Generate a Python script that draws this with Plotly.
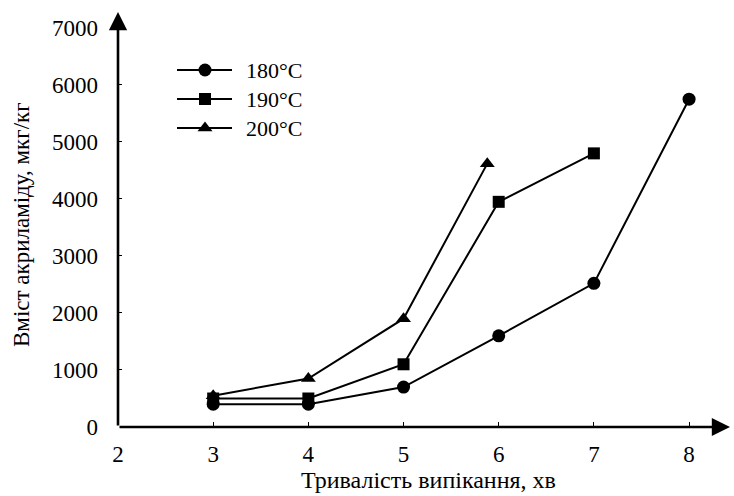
import plotly.graph_objects as go

# Acrylamide content vs. baking time at three temperatures
time_180 = [3, 4, 5, 6, 7, 8]
acr_180 = [400, 400, 700, 1600, 2520, 5750]

time_190 = [3, 4, 5, 6, 7]
acr_190 = [500, 500, 1100, 3950, 4800]

time_200 = [3, 4, 5, 5.88]
acr_200 = [550, 850, 1900, 4620]

series_names = ["180°C", "190°C", "200°C"]
series_symbols = ["circle", "square", "triangle-up"]
marker_sizes = [13, 12, 13]

x_ticks = [2, 3, 4, 5, 6, 7, 8]
y_ticks = [0, 1000, 2000, 3000, 4000, 5000, 6000, 7000]

X_MAX = 8.43
Y_MAX = 7280
FONT = "'Times New Roman', 'Liberation Serif', 'DejaVu Serif', serif"
TICK_FONT = dict(family=FONT, size=23, color="black")
LEG_FONT = dict(family=FONT, size=22, color="black")

fig = go.Figure()

for xs, ys, sym, size in zip([time_180, time_190, time_200],
                             [acr_180, acr_190, acr_200],
                             series_symbols, marker_sizes):
    fig.add_trace(go.Scatter(
        x=xs, y=ys, mode="lines+markers",
        line=dict(color="black", width=2),
        marker=dict(symbol=sym, size=size, color="black"),
        showlegend=False, cliponaxis=False,
    ))

# Hand-drawn legend on a pixel-unit overlay axis
leg_rows = [70, 99, 128]
for name, sym, size, yy in zip(series_names, series_symbols, marker_sizes, leg_rows):
    fig.add_trace(go.Scatter(
        x=[177, 232], y=[yy, yy], mode="lines",
        line=dict(color="black", width=2),
        xaxis="x2", yaxis="y2", showlegend=False, hoverinfo="skip",
    ))
    fig.add_trace(go.Scatter(
        x=[205], y=[yy], mode="markers",
        marker=dict(symbol=sym, size=size, color="black"),
        xaxis="x2", yaxis="y2", showlegend=False, hoverinfo="skip",
    ))
    fig.add_annotation(
        x=244, y=yy, xref="x2", yref="y2", text=name, showarrow=False,
        xanchor="left", yanchor="middle", font=LEG_FONT,
    )

# Axis arrows
fig.add_annotation(x=2, y=Y_MAX, ax=2, ay=0, xref="x", yref="y", axref="x", ayref="y",
                   text="", showarrow=True, arrowhead=2, arrowsize=1.4, arrowwidth=2.6,
                   arrowcolor="black")
fig.add_annotation(x=X_MAX, y=0, ax=2, ay=0, xref="x", yref="y", axref="x", ayref="y",
                   text="", showarrow=True, arrowhead=2, arrowsize=1.4, arrowwidth=2.6,
                   arrowcolor="black")

# Axis titles
fig.add_annotation(x=(428 - 118) / 612, y=(427 - 480) / 415, xref="paper", yref="paper",
                   text="Тривалість випікання, хв", showarrow=False,
                   xanchor="center", yanchor="middle",
                   font=dict(family=FONT, size=24, color="black"))
fig.add_annotation(x=(21 - 118) / 612, y=(427 - 225) / 415, xref="paper", yref="paper",
                   text="Вміст акриламіду, мкг/кг", showarrow=False, textangle=-90,
                   xanchor="center", yanchor="middle",
                   font=dict(family=FONT, size=23, color="black"))

fig.update_layout(
    width=734, height=496,
    margin=dict(l=118, r=4, t=12, b=69),
    paper_bgcolor="white", plot_bgcolor="white",
    font=TICK_FONT,
    xaxis=dict(
        range=[2, X_MAX], tickvals=x_ticks, ticktext=[str(v) for v in x_ticks],
        ticks="inside", ticklen=5, tickwidth=1, tickcolor="black",
        showgrid=False, zeroline=False, showline=False,
        ticklabelstandoff=11, tickfont=TICK_FONT,
    ),
    yaxis=dict(
        range=[0, Y_MAX], tickvals=y_ticks, ticktext=[str(v) for v in y_ticks],
        ticks="inside", ticklen=4, tickwidth=1, tickcolor="black",
        showgrid=False, zeroline=False, showline=False,
        ticklabelstandoff=19, tickfont=TICK_FONT,
    ),
    xaxis2=dict(range=[118, 730], overlaying="x", visible=False, fixedrange=True),
    yaxis2=dict(range=[427, 12], overlaying="y", visible=False, fixedrange=True),
)

fig.write_html("out.html")
